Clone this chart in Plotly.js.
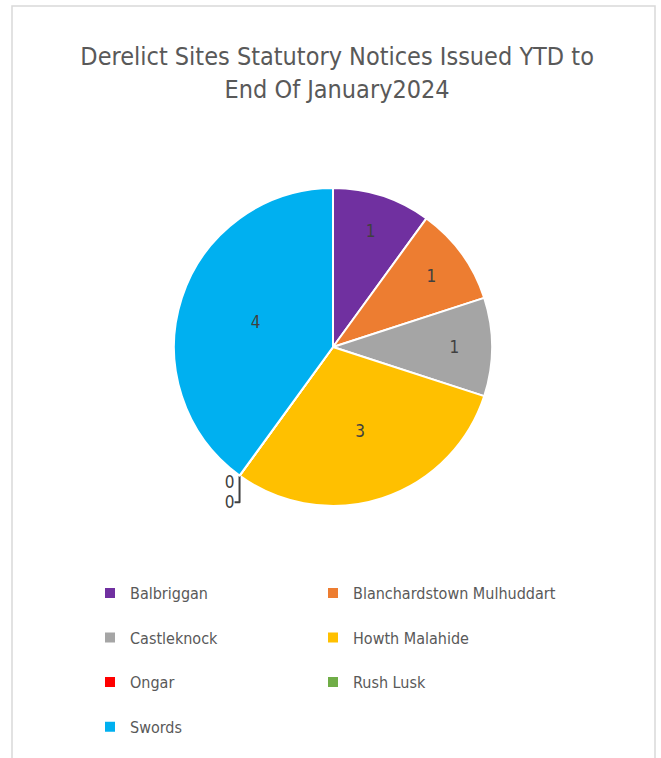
<!DOCTYPE html>
<html>
<head>
<meta charset="utf-8">
<script src="https://cdn.plot.ly/plotly-3.0.1.min.js"></script>
<style>html,body{margin:0;padding:0;background:#fff;}#chart{width:661px;height:758px;}</style>
</head>
<body>
<div id="chart"></div>
<script>
const areas = ["Balbriggan", "Blanchardstown Mulhuddart", "Castleknock", "Howth Malahide", "Ongar", "Rush Lusk", "Swords"];
const notices = [1, 1, 1, 3, 0, 0, 4];
const sliceColors = ["#7030A0", "#ED7D31", "#A5A5A5", "#FFC000", "#FF0000", "#70AD47", "#00B0F0"];
const chartTitle = "Derelict Sites Statutory Notices Issued YTD to<br>End Of January2024";

const W = 661, H = 758;
const px = v => v / W;
const py = v => 1 - v / H;
const FONT = "'DejaVu Sans Condensed', 'Liberation Sans', sans-serif";

// extra blank line under each legend entry (except the last) gives the wide row spacing
const legendLabels = areas.map((a, i) => i < areas.length - 1 ? a + "<br> " : a);

const trace = {
  type: "pie",
  labels: legendLabels,
  values: notices,
  sort: false,
  direction: "clockwise",
  rotation: 0,
  marker: { colors: sliceColors, line: { color: "#ffffff", width: 2 } },
  texttemplate: "%{value}",
  textposition: notices.map(v => v === 0 ? "outside" : "inside"),
  insidetextorientation: "horizontal",
  textfont: { family: FONT, size: 17, color: "#404040" },
  outsidetextfont: { family: FONT, size: 17, color: "#404040" },
  hoverinfo: "label+value",
  domain: { x: [px(174), px(492)], y: [py(510), py(184)] },
  showlegend: true
};

const layout = {
  width: W, height: H,
  margin: { l: 0, r: 0, t: 0, b: 0 },
  paper_bgcolor: "#ffffff",
  font: { family: FONT, color: "#595959" },
  title: {
    text: chartTitle,
    font: { family: FONT, size: 25, color: "#595959" },
    x: 0.51, xanchor: "center",
    y: py(65), yanchor: "middle", yref: "paper"
  },
  legend: {
    orientation: "h",
    x: px(90), xanchor: "left",
    y: py(576), yanchor: "top",
    bgcolor: "rgba(0,0,0,0)",
    font: { family: FONT, size: 16, color: "#595959" },
    valign: "top",
    entrywidth: 178, entrywidthmode: "pixels",
    traceorder: "normal"
  },
  shapes: [{
    type: "rect", xref: "paper", yref: "paper",
    x0: px(12), x1: px(655), y0: py(775), y1: py(6),
    line: { color: "#d9d9d9", width: 1.5 }, fillcolor: "rgba(0,0,0,0)", layer: "below"
  }]
};

Plotly.newPlot("chart", [trace], layout, { displayModeBar: false, staticPlot: true }).then(gd => {
  // let the long second-column legend label run past the fixed column width
  gd.querySelectorAll(".legend .scrollbox").forEach(el => el.removeAttribute("clip-path"));
  gd.querySelectorAll(".legend").forEach(el => el.removeAttribute("clip-path"));
});
</script>
</body>
</html>
